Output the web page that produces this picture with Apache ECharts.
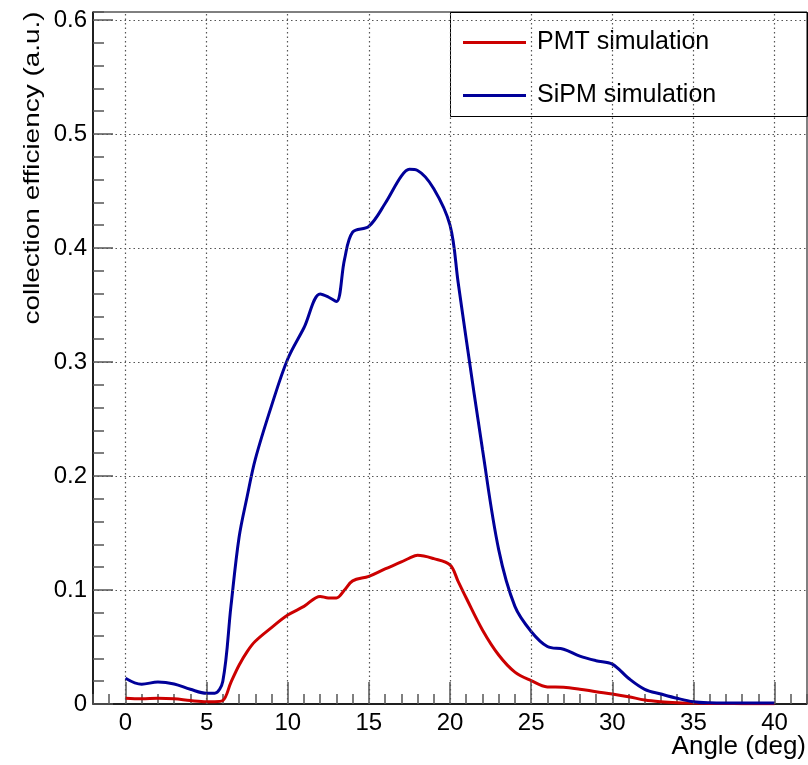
<!DOCTYPE html>
<html>
<head>
<meta charset="utf-8">
<script src="https://cdn.jsdelivr.net/npm/echarts@6/dist/echarts.min.js"></script>
<style>html,body{margin:0;padding:0;background:#fff;}#c{width:808px;height:765px;}</style>
</head>
<body>
<div id="c"></div>
<script>
// ---- data ----
const angles = [0,1,2,3,4,5,5.5,6,6.5,7,7.5,8,9,10,11,12,12.5,13,13.5,14,15,16,17,17.5,18,19,20,20.5,21,22,23,24,25,26,27,28,29,30,31,32,33,34,35,36,37,38,39,40];
const pmt = [0.005,0.0045,0.005,0.0045,0.003,0.002,0.002,0.003,0.019,0.034,0.046,0.055,0.067,0.078,0.0856,0.0944,0.093,0.093,0.100,0.108,0.112,0.1185,0.1246,0.128,0.1304,0.1275,0.122,0.1076,0.093,0.065,0.043,0.028,0.0205,0.015,0.0147,0.013,0.0108,0.0088,0.0064,0.0035,0.002,0.0012,0.0008,0.0005,0.0004,0.0003,0.0003,0.0003];
const sipm = [0.0226,0.0173,0.0193,0.0176,0.0129,0.0094,0.0094,0.02,0.0856,0.146,0.182,0.2146,0.2615,0.3026,0.330,0.3597,0.357,0.353,0.390,0.414,0.419,0.439,0.463,0.469,0.468,0.452,0.42,0.370,0.320,0.2234,0.1354,0.0856,0.0636,0.0504,0.048,0.042,0.038,0.035,0.0226,0.0129,0.0088,0.005,0.002,0.001,0.0008,0.0008,0.0008,0.0008];
const xMajorTicks = [0,5,10,15,20,25,30,35,40];
const yMajorTicks = [0,0.1,0.2,0.3,0.4,0.5,0.6];
const seriesNames = ['PMT simulation','SiPM simulation'];
const xTitle = 'Angle (deg)';
const yTitle = 'collection efficiency (a.u.)';

const FONT = 'Liberation Sans, Arial, Helvetica, sans-serif';
const chart = echarts.init(document.getElementById('c'), null, {renderer:'canvas'});
const pts = arr => angles.map((a,i)=>[a,arr[i]]);

chart.setOption({
  animation:false,
  backgroundColor:'#fff',
  grid:{left:93, top:12, right:1, bottom:61, containLabel:false, outerBoundsMode:'none',
        show:true, borderColor:'#000', borderWidth:1, backgroundColor:'transparent'},
  xAxis:[
    {type:'value', min:-2, max:42, interval:1,
     axisLine:{onZero:false, lineStyle:{color:'#000', width:1.5}},
     axisTick:{inside:true, length:10, lineStyle:{color:'#555', width:1.5}},
     axisLabel:{customValues:xMajorTicks, color:'#000', fontFamily:FONT, fontSize:24, margin:7},
     splitLine:{show:false}
    },
    {type:'value', min:-2, max:42, position:'bottom',
     axisLine:{show:false, onZero:false},
     axisTick:{inside:true, length:22, customValues:xMajorTicks, lineStyle:{color:'#555', width:1.5}},
     axisLabel:{show:false}, splitLine:{show:false}}
  ],
  yAxis:[
    {type:'value', min:0, max:0.607, interval:0.02,
     axisLine:{onZero:false, lineStyle:{color:'#000', width:1.5}},
     axisTick:{inside:true, length:11, lineStyle:{color:'#555', width:1.5}},
     axisLabel:{customValues:yMajorTicks, color:'#000', fontFamily:FONT, fontSize:24, margin:6,
       formatter:v=>String(Math.round(v*10)/10)},
     splitLine:{show:false}
    },
    {type:'value', min:0, max:0.607, position:'left',
     axisLine:{show:false, onZero:false},
     axisTick:{inside:true, length:20, customValues:yMajorTicks, lineStyle:{color:'#555', width:1.5}},
     axisLabel:{show:false}, splitLine:{show:false}}
  ],
  legend:{
    data:seriesNames, orient:'vertical', left:458, top:25, itemGap:28,
    itemWidth:63, itemHeight:3, icon:'rect',
    textStyle:{fontFamily:FONT, fontSize:25, color:'#000', padding:[0,0,0,6]}
  },
  graphic:[
    {type:'rect', left:450, top:12, z:-1, shape:{width:357, height:104}, style:{fill:'#fff', stroke:'#000', lineWidth:1}},
    {type:'text', x:806, y:747, z:10, style:{text:xTitle, font:'26px Liberation Sans', fill:'#000', textAlign:'right', textVerticalAlign:'middle'}},
    {type:'text', x:33, y:168, z:10, rotation:Math.PI/2, scaleX:1.27,
     style:{text:yTitle, font:'22px Liberation Sans', fill:'#000', textAlign:'center', textVerticalAlign:'middle'}}
  ],
  series:[
    {name:'grid', type:'line', data:[], z:1, silent:true,
     markLine:{silent:true, symbol:'none', animation:false, label:{show:false},
       lineStyle:{type:[1.5,3], color:'#555', width:1.2},
       data:[...xMajorTicks.map(v=>({xAxis:v})), ...yMajorTicks.filter(v=>v>0).map(v=>({yAxis:v}))]}},
    {name:seriesNames[0], type:'line', data:pts(pmt), smooth:0.35, showSymbol:false, z:3,
     lineStyle:{color:'#cc0000', width:3}, itemStyle:{color:'#cc0000'}},
    {name:seriesNames[1], type:'line', data:pts(sipm), smooth:0.35, showSymbol:false, z:3,
     lineStyle:{color:'#000099', width:3}, itemStyle:{color:'#000099'}}
  ]
});
</script>
</body>
</html>
